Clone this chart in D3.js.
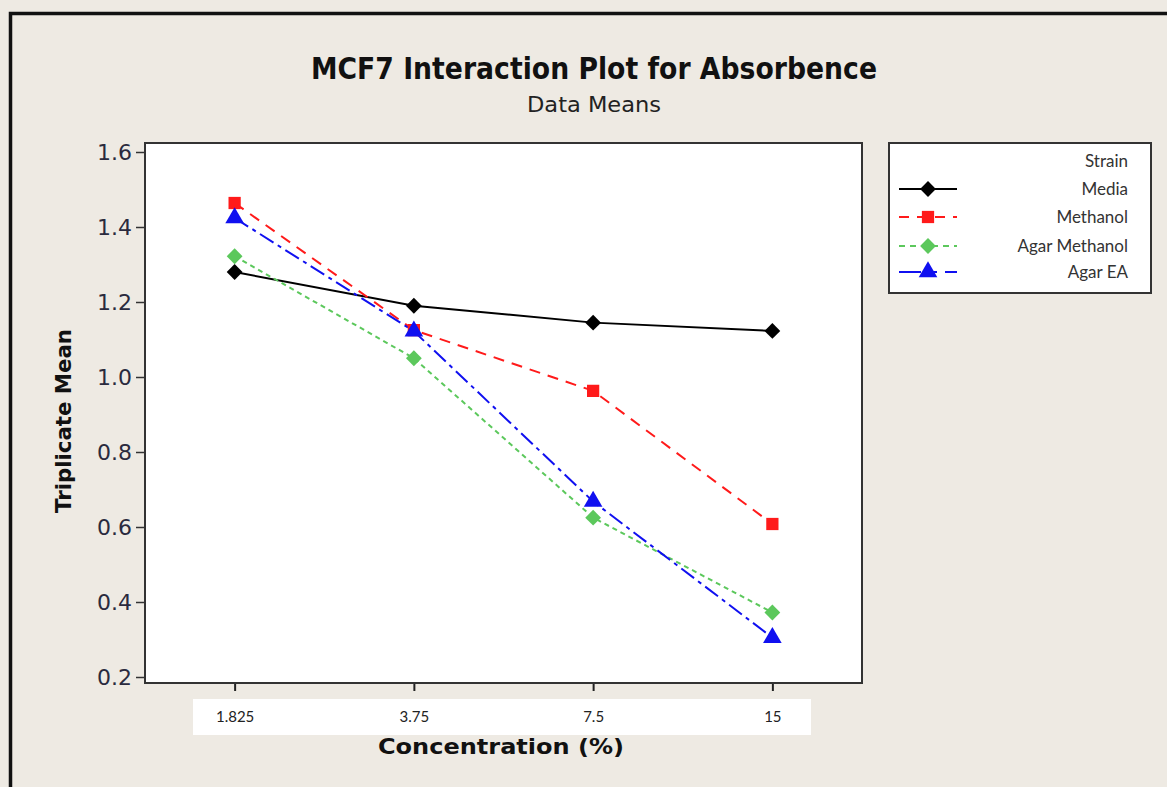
<!DOCTYPE html>
<html>
<head>
<meta charset="utf-8">
<script src="https://cdn.jsdelivr.net/npm/d3@7"></script>
<style>
  html, body { margin: 0; padding: 0; background: #eeeae3; }
  svg { display: block; }
</style>
</head>
<body>
<svg id="chart" width="1167" height="787"></svg>
<script>
// ---- Data ----
const concentrations = ["1.825", "3.75", "7.5", "15"];
const media = [1.28, 1.19, 1.145, 1.123];
const methanol = [1.464, 1.125, 0.963, 0.608];
const agarMethanol = [1.322, 1.05, 0.625, 0.372];
const agarEA = [1.424, 1.122, 0.668, 0.305];
const seriesNames = ["Media", "Methanol", "Agar Methanol", "Agar EA"];
const yTicks = [0.2, 0.4, 0.6, 0.8, 1.0, 1.2, 1.4, 1.6];

const seriesValues = [media, methanol, agarMethanol, agarEA];
const styles = [
  { color: "#000000", dash: null, legendDash: null, shape: d3.symbolSquare, size: 125, rot: 45 },
  { color: "#ff1a1a", dash: "11,8", legendDash: "10,8", shape: d3.symbolSquare, size: 150, rot: 0 },
  { color: "#5cc85c", dash: "5,4", legendDash: "6,5", shape: d3.symbolSquare, size: 125, rot: 45 },
  { color: "#1010f0", dash: "16,5,4,5", legendDash: "22,8,8,8", shape: d3.symbolTriangle, size: 150, rot: 0 }
];

const svg = d3.select("#chart");
const W = 1167, H = 787;

// background + outer frame
svg.append("rect").attr("x", 0).attr("y", 0).attr("width", W).attr("height", H).attr("fill", "#eeeae3");
svg.append("rect").attr("x", 10.5).attr("y", 13.5).attr("width", W + 20).attr("height", H + 20)
  .attr("fill", "none").attr("stroke", "#111").attr("stroke-width", 3.5);

// plot area
const plot = { left: 145, top: 143, right: 862, bottom: 683 };

const x = d3.scalePoint().domain(concentrations).range([plot.left, plot.right]).padding(0.5);
const y = d3.scaleLinear().domain([0.184, 1.624]).range([plot.bottom, plot.top]);

svg.append("rect").attr("x", plot.left).attr("y", plot.top)
  .attr("width", plot.right - plot.left).attr("height", plot.bottom - plot.top)
  .attr("fill", "#ffffff");

// white box behind x tick labels
svg.append("rect").attr("x", 193).attr("y", 699).attr("width", 618).attr("height", 36).attr("fill", "#ffffff");

// Y axis
const yAxis = d3.axisLeft(y).tickValues(yTicks).tickFormat(d3.format(".1f")).tickSize(9).tickPadding(4);
const gy = svg.append("g").attr("transform", `translate(${plot.left},0)`).call(yAxis);
gy.select(".domain").remove();
gy.selectAll(".tick line").attr("stroke", "#333").attr("stroke-width", 1.5);
gy.selectAll(".tick text").attr("font-family", "'DejaVu Sans', Verdana, sans-serif")
  .attr("font-size", 22).attr("fill", "#2a2a3e");

// X axis
const xAxis = d3.axisBottom(x).tickSize(8).tickPadding(20);
const gx = svg.append("g").attr("transform", `translate(0,${plot.bottom})`).call(xAxis);
gx.select(".domain").remove();
gx.selectAll(".tick line").attr("stroke", "#222").attr("stroke-width", 2);
gx.selectAll(".tick text").attr("font-family", "Lato, 'Open Sans', sans-serif")
  .attr("font-size", 15).attr("fill", "#222");

// plot frame
svg.append("rect").attr("x", plot.left).attr("y", plot.top)
  .attr("width", plot.right - plot.left).attr("height", plot.bottom - plot.top)
  .attr("fill", "none").attr("stroke", "#333").attr("stroke-width", 2);

// lines
const line = d3.line().x((d, i) => x(concentrations[i])).y(d => y(d));
seriesValues.forEach((vals, si) => {
  const st = styles[si];
  svg.append("path").datum(vals).attr("d", line).attr("fill", "none")
    .attr("stroke", st.color).attr("stroke-width", 2)
    .attr("stroke-dasharray", st.dash);
});
// markers
seriesValues.forEach((vals, si) => {
  const st = styles[si];
  svg.selectAll(null).data(vals).enter().append("path")
    .attr("d", d3.symbol().type(st.shape).size(st.size))
    .attr("transform", (d, i) => `translate(${x(concentrations[i])},${y(d)}) rotate(${st.rot})`)
    .attr("fill", st.color);
});

// titles
svg.append("text").attr("x", 594).attr("y", 79).attr("text-anchor", "middle")
  .attr("font-family", "'DejaVu Sans', Verdana, sans-serif").attr("font-weight", "bold")
  .attr("font-size", 30).attr("fill", "#111")
  .attr("textLength", 566).attr("lengthAdjust", "spacingAndGlyphs")
  .text("MCF7 Interaction Plot for Absorbence");
svg.append("text").attr("x", 594).attr("y", 112).attr("text-anchor", "middle")
  .attr("font-family", "'DejaVu Sans', Verdana, sans-serif")
  .attr("font-size", 21).attr("fill", "#222")
  .attr("textLength", 134).attr("lengthAdjust", "spacingAndGlyphs")
  .text("Data Means");
svg.append("text").attr("transform", "translate(71,421) rotate(-90)").attr("text-anchor", "middle")
  .attr("font-family", "'DejaVu Sans', Verdana, sans-serif").attr("font-weight", "bold")
  .attr("font-size", 22).attr("fill", "#111")
  .attr("textLength", 184).attr("lengthAdjust", "spacingAndGlyphs")
  .text("Triplicate Mean");
svg.append("text").attr("x", 501).attr("y", 754).attr("text-anchor", "middle")
  .attr("font-family", "'DejaVu Sans', Verdana, sans-serif").attr("font-weight", "bold")
  .attr("font-size", 22).attr("fill", "#111")
  .attr("textLength", 246).attr("lengthAdjust", "spacingAndGlyphs")
  .text("Concentration (%)");

// legend
const lg = svg.append("g");
lg.append("rect").attr("x", 889).attr("y", 143).attr("width", 262).attr("height", 150)
  .attr("fill", "#ffffff").attr("stroke", "#333").attr("stroke-width", 2);
lg.append("text").attr("x", 1128).attr("y", 167).attr("text-anchor", "end")
  .attr("font-family", "Lato, 'Open Sans', sans-serif").attr("font-size", 17).attr("fill", "#333")
  .text("Strain");
const rowY = [189, 217, 246, 272];
seriesNames.forEach((name, si) => {
  const st = styles[si];
  const ry = rowY[si];
  lg.append("line").attr("x1", 899).attr("x2", 957).attr("y1", ry).attr("y2", ry)
    .attr("stroke", st.color).attr("stroke-width", 2).attr("stroke-dasharray", st.legendDash);
  lg.append("path").attr("d", d3.symbol().type(st.shape).size(st.size))
    .attr("transform", `translate(928,${ry}) rotate(${st.rot})`).attr("fill", st.color);
  lg.append("text").attr("x", 1128).attr("y", ry + 6).attr("text-anchor", "end")
    .attr("font-family", "Lato, 'Open Sans', sans-serif").attr("font-size", 17).attr("fill", "#333")
    .text(name);
});
</script>
</body>
</html>
